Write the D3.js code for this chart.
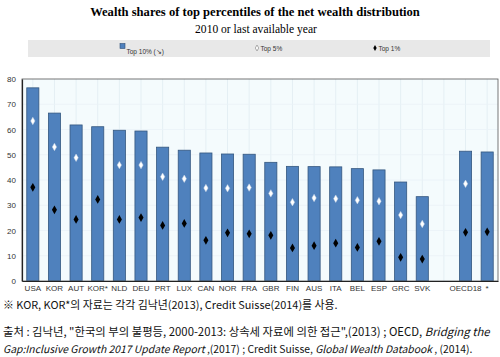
<!DOCTYPE html>
<html><head><meta charset="utf-8">
<script src="https://cdn.jsdelivr.net/npm/d3@7"></script>
<style>body{margin:0;background:#fff}svg{display:block}</style>
</head><body>
<script>
const categories = ["USA","KOR","AUT","KOR*","NLD","DEU","PRT","LUX","CAN","NOR","FRA","GBR","FIN","AUS","ITA","BEL","ESP","GRC","SVK","","OECD18","*"];
const top10 = [76.5,66.5,61.8,61.1,59.7,59.4,53.0,51.8,50.7,50.3,50.2,47.0,45.4,45.3,45.2,44.5,44.0,39.2,33.4,null,51.4,51.1];
const top5  = [63.4,53.1,48.8,null,45.9,45.9,41.3,40.5,36.8,36.7,37.0,34.7,31.2,32.9,32.6,32.0,31.6,26.1,22.6,null,38.5,null];
const top1  = [37.1,28.2,24.4,32.3,24.4,25.1,22.0,22.8,16.1,19.1,18.7,18.1,13.1,14.0,15.0,13.3,15.7,9.4,8.7,null,19.3,19.5];
const yTicks = [0,10,20,30,40,50,60,70,80];
const legendLabels = ["Top 10% (↘)","Top 5%","Top 1%"];
const title = "Wealth shares of top percentiles of the net wealth distribution";
const subtitle = "2010 or last available year";
const note = "※ KOR, KOR*의 자료는 각각 김낙년(2013), Credit Suisse(2014)를 사용.";

const W=500,H=357;
const svg=d3.select("body").append("svg").attr("width",W).attr("height",H);
const L=22,R=498,T=79,B=281;
const x=d3.scaleBand().domain(categories.map((c,i)=>i)).range([L,R]).paddingInner(0.44).paddingOuter(0.22);
const y=d3.scaleLinear().domain([0,80]).range([B,T]);

function fitWidth(sel,target){
  const len=sel.node().getComputedTextLength();
  const fs=parseFloat(sel.style("font-size"));
  sel.style("font-size",(fs*target/len)+"px");
}

const tt=svg.append("text").attr("x",255).attr("y",16).attr("text-anchor","middle")
  .style("font-family","Liberation Serif").style("font-weight","bold").style("font-size","13px").text(title);
fitWidth(tt,330);
const st=svg.append("text").attr("x",256).attr("y",33).attr("text-anchor","middle")
  .style("font-family","Liberation Serif").style("font-size","12px").text(subtitle);
fitWidth(st,122);

// legend
svg.append("rect").attr("x",28).attr("y",40).attr("width",462).attr("height",17).attr("fill","#e8e8e8");
const lg=svg.append("g").style("font-family","Liberation Sans").style("font-size","6.5px").attr("fill","#333");
lg.append("rect").attr("x",120).attr("y",43.5).attr("width",5).attr("height",5).attr("fill","#4f81bd").attr("stroke","#2f4f77").attr("stroke-width",0.6);
lg.append("text").attr("x",126.5).attr("y",53.5).text(legendLabels[0]);
lg.append("path").attr("d",d3.symbol(d3.symbolDiamond,10)()).attr("transform","translate(257,48)").attr("fill","#fff").attr("stroke","#777").attr("stroke-width",0.6);
lg.append("text").attr("x",260.5).attr("y",50.5).text(legendLabels[1]);
lg.append("path").attr("d",d3.symbol(d3.symbolDiamond,10)()).attr("transform","translate(375,48)").attr("fill","#000");
lg.append("text").attr("x",378.5).attr("y",50.5).text(legendLabels[2]);

// plot bg
svg.append("rect").attr("x",L).attr("y",T).attr("width",R-L).attr("height",B-T).attr("fill","#f4fbfd");
svg.append("g").selectAll("line").data(categories.map((c,i)=>i)).join("line")
  .attr("x1",d=>x(d)+x.bandwidth()/2).attr("x2",d=>x(d)+x.bandwidth()/2).attr("y1",T).attr("y2",B)
  .attr("stroke","#e4eff4").attr("stroke-width",1);
svg.append("g").selectAll("line").data(yTicks.slice(1,-1)).join("line")
  .attr("x1",L).attr("x2",R).attr("y1",d=>y(d)).attr("y2",d=>y(d)).attr("stroke","#eaf3f7").attr("stroke-width",0.8);

// bars
const idx=categories.map((c,i)=>i);
svg.append("g").selectAll("rect").data(idx.filter(i=>top10[i]!=null)).join("rect")
  .attr("x",i=>x(i)).attr("width",x.bandwidth()).attr("y",i=>y(top10[i])).attr("height",i=>y(0)-y(top10[i]))
  .attr("fill","#4f81bd").attr("stroke","#34577f").attr("stroke-width",0.8);
svg.append("g").selectAll("path").data(idx.filter(i=>top5[i]!=null)).join("path")
  .attr("d",d3.symbol(d3.symbolDiamond,16)()).attr("transform",i=>`translate(${x(i)+x.bandwidth()/2},${y(top5[i])})`)
  .attr("fill","#fff").attr("stroke","#c5d3e4").attr("stroke-width",0.5);
svg.append("g").selectAll("path").data(idx.filter(i=>top1[i]!=null)).join("path")
  .attr("d",d3.symbol(d3.symbolDiamond,22)()).attr("transform",i=>`translate(${x(i)+x.bandwidth()/2},${y(top1[i])})`)
  .attr("fill","#000");

// frame
svg.append("rect").attr("x",L).attr("y",T).attr("width",R-L).attr("height",B-T).attr("fill","none").attr("stroke","#555").attr("stroke-width",0.8);

// axes
const ya=svg.append("g").attr("transform",`translate(${L},0)`).call(d3.axisLeft(y).tickValues(yTicks).tickSize(0).tickPadding(6));
ya.select(".domain").attr("stroke","#222").attr("stroke-width",1.2);
ya.selectAll("text").style("font-family","Liberation Sans").style("font-size","8px").attr("fill","#333");
const xa=svg.append("g").attr("transform",`translate(0,${B})`).call(d3.axisBottom(x).tickFormat(i=>categories[i]).tickSize(0).tickPadding(4));
xa.select(".domain").attr("stroke","#222").attr("stroke-width",1.2);
xa.selectAll("text").style("font-family","Liberation Sans").style("font-size","8px").attr("fill","#333");

// notes
const nf="'Noto Sans CJK KR'";
const n1=svg.append("text").attr("x",3).attr("y",309).style("font-family",nf).style("font-size","10.5px").attr("fill","#111").text(note);
fitWidth(n1,335);
const s1=svg.append("text").attr("x",3).attr("y",336).style("font-family",nf).style("font-size","10.5px").attr("fill","#111");
s1.append("tspan").text('출처 : 김낙년, "한국의 부의 불평등, 2000-2013: 상속세 자료에 의한 접근",(2013) ; OECD, ');
s1.append("tspan").style("font-style","italic").text("Bridging the");
fitWidth(s1,487);
const s2=svg.append("text").attr("x",3).attr("y",353).style("font-family",nf).style("font-size","10.5px").attr("fill","#111");
s2.append("tspan").style("font-style","italic").text("Gap:Inclusive Growth 2017 Update Report");
s2.append("tspan").text(" ,(2017) ; Credit Suisse, ");
s2.append("tspan").style("font-style","italic").text("Global Wealth Databook");
s2.append("tspan").text(" , (2014).");
fitWidth(s2,470);
</script>
</body></html>
